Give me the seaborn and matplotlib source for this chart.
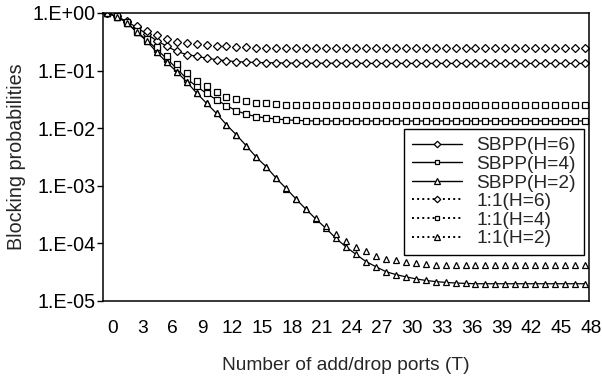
import math
import matplotlib
matplotlib.use("Agg")
import matplotlib.pyplot as plt
import seaborn as sns
from matplotlib.lines import Line2D
from matplotlib.ticker import FixedLocator, FuncFormatter, NullLocator
from matplotlib.transforms import ScaledTranslation

# Number of add/drop ports
ports = list(range(49))

sbpp_h6 = [1.0, 0.87, 0.71, 0.56, 0.43, 0.33, 0.265, 0.215, 0.19, 0.177,
           0.164, 0.155, 0.148, 0.143, 0.14, 0.138, 0.137, 0.136, 0.135,
           0.134, 0.134, 0.134, 0.134, 0.134, 0.134, 0.134,
           0.133, 0.133, 0.133, 0.133, 0.133, 0.133, 0.133, 0.133, 0.133,
           0.133, 0.133, 0.133, 0.133, 0.133, 0.133, 0.133, 0.133, 0.133,
           0.133, 0.133, 0.133, 0.133, 0.133]

sbpp_h4 = [1.0, 0.86, 0.68, 0.47, 0.34, 0.235, 0.16, 0.109, 0.072, 0.053,
           0.040, 0.031, 0.0245, 0.0200, 0.0174, 0.0158, 0.015, 0.0144,
           0.0139, 0.0136, 0.0134,
           0.0133, 0.0133, 0.0133, 0.0133, 0.0133, 0.0133, 0.0133, 0.0133,
           0.0133, 0.0133, 0.0133, 0.0133, 0.0133, 0.0133, 0.0133, 0.0133,
           0.0133, 0.0133, 0.0133, 0.0133, 0.0133, 0.0133, 0.0133, 0.0133,
           0.0133, 0.0133, 0.0133, 0.0133]

sbpp_h2 = [1.0, 0.86, 0.68, 0.46, 0.326, 0.207, 0.139, 0.0955, 0.064, 0.0405,
           0.027, 0.018, 0.0114, 0.0076, 0.0049, 0.0031, 0.00212, 0.00134,
           0.00089, 0.00058, 0.000385, 0.00026, 0.00018, 0.000121, 8.6e-5,
           6.4e-5, 4.8e-5, 3.9e-5, 3.2e-5, 2.85e-5, 2.6e-5, 2.4e-5, 2.25e-5,
           2.15e-5, 2.08e-5, 2.03e-5, 2.0e-5,
           1.97e-5, 1.97e-5, 1.97e-5, 1.97e-5, 1.97e-5, 1.97e-5, 1.97e-5,
           1.97e-5, 1.97e-5, 1.97e-5, 1.97e-5, 1.97e-5]

prot_h6 = [1.0, 0.88, 0.74, 0.6, 0.49, 0.415, 0.355, 0.318, 0.297, 0.285,
           0.277, 0.268, 0.262, 0.258, 0.253, 0.251, 0.25,
           0.249, 0.249, 0.249, 0.249, 0.249, 0.249, 0.249, 0.249, 0.249,
           0.249, 0.249, 0.249, 0.249, 0.249, 0.249, 0.249, 0.249, 0.249,
           0.249, 0.249, 0.249, 0.249, 0.249, 0.249, 0.249, 0.249, 0.249,
           0.249, 0.249, 0.249, 0.249, 0.249]

prot_h4 = [1.0, 0.87, 0.69, 0.49, 0.36, 0.255, 0.18, 0.13, 0.089, 0.066,
           0.0535, 0.043, 0.0352, 0.032, 0.0295, 0.0277, 0.0268, 0.0261,
           0.0255, 0.0252,
           0.025, 0.025, 0.025, 0.025, 0.025, 0.025, 0.025, 0.025, 0.025,
           0.025, 0.025, 0.025, 0.025, 0.025, 0.025, 0.025, 0.025, 0.025,
           0.025, 0.025, 0.025, 0.025, 0.025, 0.025, 0.025, 0.025, 0.025,
           0.025, 0.025]

prot_h2 = [1.0, 0.86, 0.68, 0.46, 0.326, 0.207, 0.139, 0.0955, 0.064, 0.0405,
           0.027, 0.018, 0.0114, 0.0076, 0.0049, 0.0031, 0.00212, 0.00134,
           0.0009, 0.00059, 0.0004, 0.000275, 0.000198, 0.000142, 0.00011,
           8.6e-5, 7.2e-5, 6.0e-5, 5.4e-5, 5.0e-5, 4.7e-5, 4.5e-5, 4.35e-5,
           4.25e-5, 4.18e-5, 4.12e-5,
           4.1e-5, 4.1e-5, 4.1e-5, 4.1e-5, 4.1e-5, 4.1e-5, 4.1e-5, 4.1e-5,
           4.1e-5, 4.1e-5, 4.1e-5, 4.1e-5, 4.1e-5]

series_labels = ["SBPP(H=6)", "SBPP(H=4)", "SBPP(H=2)",
                 "1:1(H=6)", "1:1(H=4)", "1:1(H=2)"]
y_ticks = [1e0, 1e-1, 1e-2, 1e-3, 1e-4, 1e-5]
x_ticks = list(range(0, 49, 3))

sns.set_style("ticks")
plt.rcParams["font.family"] = ["Liberation Sans", "DejaVu Sans"]

fig = plt.figure(figsize=(6.02, 3.79), dpi=100)
ax = fig.add_axes([0.1706, 0.2066, 0.8078, 0.7591])

styles = [
    (sbpp_h6, "D", 3.7, "-"),
    (sbpp_h4, "s", 3.9, "-"),
    (sbpp_h2, "^", 5.0, "-"),
    (prot_h6, "D", 3.7, ":"),
    (prot_h4, "s", 3.9, ":"),
    (prot_h2, "^", 5.0, ":"),
]

handles = []
for (vals, mk, ms, ls), lab in zip(styles, series_labels):
    sns.lineplot(x=ports, y=vals, ax=ax, color="black",
                 linestyle="-" if ls == "-" else "none", linewidth=0.9,
                 marker=mk, markersize=ms, markerfacecolor="white",
                 markeredgecolor="black", markeredgewidth=0.9)
    handles.append(Line2D([], [], color="black", linestyle=ls,
                          linewidth=1.0 if ls == "-" else 1.4,
                          marker=mk, markersize=ms - 0.4, markerfacecolor="white",
                          markeredgecolor="black", markeredgewidth=0.9))

ax.set_yscale("log")
ax.set_ylim(1e-5, 1.0)
ax.set_xlim(-0.43, 48.4)

ax.yaxis.set_major_locator(FixedLocator(y_ticks))
ax.yaxis.set_minor_locator(NullLocator())
ax.yaxis.set_major_formatter(
    FuncFormatter(lambda v, pos: "1.E{:+03d}".format(int(round(math.log10(v))))))

ax.set_xticks(x_ticks)
ax.set_xticklabels([str(t) for t in x_ticks])

ax.tick_params(axis="y", direction="out", length=4.3, width=1.0, pad=0.5,
               labelsize=14.2, colors="black")
ax.tick_params(axis="x", length=0, pad=14, labelsize=13.8, colors="black")
shift = ScaledTranslation(6 / 100, 0, fig.dpi_scale_trans)
for lbl in ax.get_xticklabels():
    lbl.set_transform(lbl.get_transform() + shift)

for sp in ax.spines.values():
    sp.set_visible(True)
    sp.set_color("black")
    sp.set_linewidth(1.1)

ax.set_xlabel("Number of add/drop ports (T)", fontsize=13.8, labelpad=14)
ax.set_ylabel("Blocking probabilities", fontsize=14.2, labelpad=5)

leg = ax.legend(handles, series_labels, loc="upper right",
                bbox_to_anchor=(0.99, 0.597), borderaxespad=0,
                fontsize=13.8, frameon=True, fancybox=False, shadow=False,
                handlelength=2.6, handletextpad=0.75, labelspacing=0.06,
                borderpad=0.42)
leg.get_frame().set_edgecolor("black")
leg.get_frame().set_linewidth(1.0)
leg.get_frame().set_facecolor("white")
leg.get_frame().set_alpha(1.0)

fig.savefig("out.png", dpi=100)
